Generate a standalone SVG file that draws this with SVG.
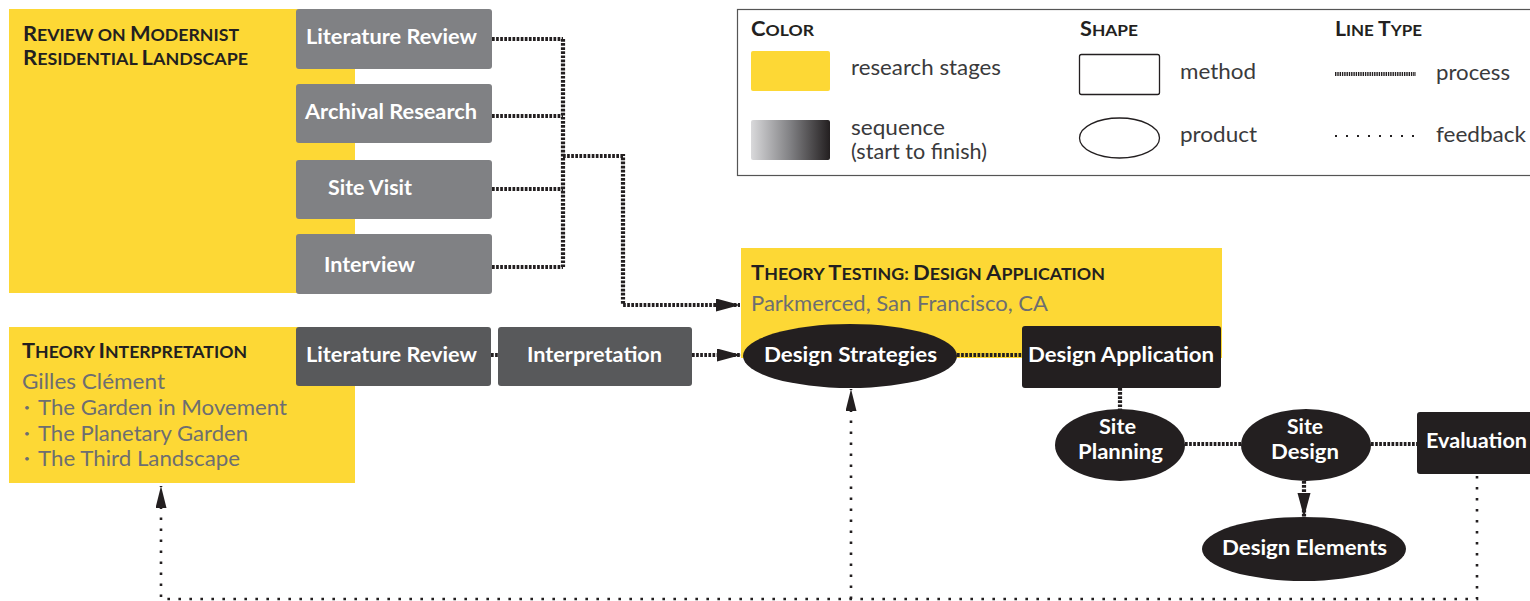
<svg xmlns="http://www.w3.org/2000/svg" width="1530" height="601" viewBox="0 0 1530 601">
  <defs>
    <linearGradient id="seqGrad" x1="0" y1="0" x2="1" y2="0">
      <stop offset="0" stop-color="#d9d9db"/>
      <stop offset="0.5" stop-color="#808083"/>
      <stop offset="1" stop-color="#231f20"/>
    </linearGradient>
    <marker id="arrowProcess" markerUnits="userSpaceOnUse" markerWidth="26" markerHeight="14" refX="24" refY="6.5" orient="auto">
      <path d="M0,0 L24,6.5 L0,13 Z" fill="#231f20"/>
    </marker>
    <marker id="arrowFeedback" markerUnits="userSpaceOnUse" markerWidth="24" markerHeight="12" refX="22" refY="5.5" orient="auto">
      <path d="M0,0 L22,5.5 L0,11 Z" fill="#231f20"/>
    </marker>
    <style>
      .stage { fill: #fdd835; }
      .m1 { fill: #808184; }
      .m2 { fill: #58595b; }
      .m3 { fill: #231f20; }
      .prod { fill: #231f20; }
      text { font-family: Lato, "Noto Sans", sans-serif; }
      .title { font-weight: 700; fill: #231f20; font-size: 21px; }
      .sc { font-size: 17px; }
      .sub { fill: #6d6e71; font-size: 21px; }
      .bullet { fill: #6d6e71; font-size: 10px; }
      .lbl { font-weight: 700; fill: #ffffff; font-size: 21px; }
      .leg { fill: #3a3a3c; font-size: 21px; }
      .legh { font-weight: 700; fill: #231f20; font-size: 20px; }
      .lsc { font-size: 16px; }
      .process { fill: none; stroke: #231f20; stroke-width: 4.2; stroke-dasharray: 2.7 1.4; }
      .feedback { fill: none; stroke: #231f20; stroke-width: 2.6; stroke-dasharray: 2.6 8.4; }
    </style>
  </defs>

  <!-- research stage: review -->
  <g id="stage-review">
    <rect class="stage" x="9" y="9" width="346" height="284"/>
    <text class="title" x="23" y="41" textLength="216" lengthAdjust="spacingAndGlyphs">R<tspan class="sc">EVIEW ON </tspan>M<tspan class="sc">ODERNIST</tspan></text>
    <text class="title" x="23" y="65" textLength="225" lengthAdjust="spacingAndGlyphs">R<tspan class="sc">ESIDENTIAL </tspan>L<tspan class="sc">ANDSCAPE</tspan></text>
  </g>

  <g id="lit-review-1">
    <rect class="m1" x="296" y="9" width="196" height="60" rx="3"/>
    <text class="lbl" x="306" y="44" textLength="171" lengthAdjust="spacingAndGlyphs">Literature Review</text>
  </g>
  <g id="archival">
    <rect class="m1" x="296" y="84" width="196" height="59" rx="3"/>
    <text class="lbl" x="305" y="119" textLength="172" lengthAdjust="spacingAndGlyphs">Archival Research</text>
  </g>
  <g id="site-visit">
    <rect class="m1" x="296" y="160" width="196" height="59" rx="3"/>
    <text class="lbl" x="328" y="195" textLength="84" lengthAdjust="spacingAndGlyphs">Site Visit</text>
  </g>
  <g id="interview">
    <rect class="m1" x="296" y="234" width="196" height="60" rx="3"/>
    <text class="lbl" x="324" y="272" textLength="91" lengthAdjust="spacingAndGlyphs">Interview</text>
  </g>

  <!-- research stage: interpretation -->
  <g id="stage-interpretation">
    <rect class="stage" x="9" y="327" width="346" height="156"/>
    <text class="title" x="22" y="358" textLength="225" lengthAdjust="spacingAndGlyphs">T<tspan class="sc">HEORY </tspan>I<tspan class="sc">NTERPRETATION</tspan></text>
    <text class="sub" x="22" y="389" textLength="143" lengthAdjust="spacingAndGlyphs">Gilles Clément</text>
    <text class="bullet" x="24" y="411">•</text>
    <text class="sub" x="38" y="415" textLength="249" lengthAdjust="spacingAndGlyphs">The Garden in Movement</text>
    <text class="bullet" x="24" y="437">•</text>
    <text class="sub" x="38" y="441" textLength="210" lengthAdjust="spacingAndGlyphs">The Planetary Garden</text>
    <text class="bullet" x="24" y="462">•</text>
    <text class="sub" x="38" y="466" textLength="202" lengthAdjust="spacingAndGlyphs">The Third Landscape</text>
  </g>

  <g id="lit-review-2">
    <rect class="m2" x="296" y="327" width="195" height="59" rx="3"/>
    <text class="lbl" x="306" y="362" textLength="171" lengthAdjust="spacingAndGlyphs">Literature Review</text>
  </g>
  <g id="interpretation">
    <rect class="m2" x="498" y="327" width="194" height="59" rx="3"/>
    <text class="lbl" x="527" y="362" textLength="135" lengthAdjust="spacingAndGlyphs">Interpretation</text>
  </g>

  <!-- research stage: testing -->
  <g id="stage-testing">
    <rect class="stage" x="741" y="248" width="481" height="110"/>
    <text class="title" x="751" y="280" textLength="354" lengthAdjust="spacingAndGlyphs">T<tspan class="sc">HEORY </tspan>T<tspan class="sc">ESTING: </tspan>D<tspan class="sc">ESIGN </tspan>A<tspan class="sc">PPLICATION</tspan></text>
    <text class="sub" x="751" y="311" textLength="297" lengthAdjust="spacingAndGlyphs">Parkmerced, San Francisco, CA</text>
  </g>

  <!-- connectors -->
  <g id="connectors">
    <path class="process" d="M492,39 H563 M492,116 H563 M492,189 H563 M492,267 H563 M563,39 V267"/>
    <path class="process" d="M563,156 H623 V305 H740" marker-end="url(#arrowProcess)"/>
    <path class="process" d="M491,355 H498"/>
    <path class="process" d="M692,355 H741" marker-end="url(#arrowProcess)"/>
    <path class="process" d="M957,355 H1022"/>
    <path class="process" d="M1120,388 V410"/>
    <path class="process" d="M1185,444 H1241"/>
    <path class="process" d="M1371,444 H1417"/>
    <path class="process" d="M1304,481 V517" marker-end="url(#arrowProcess)"/>
    <path class="feedback" d="M1477,476 V599 H161 V486" marker-end="url(#arrowFeedback)"/>
    <path class="feedback" d="M851,599 V389" marker-end="url(#arrowFeedback)"/>
  </g>

  <g id="design-strategies">
    <ellipse class="prod" cx="850" cy="356" rx="107" ry="32"/>
    <text class="lbl" x="764" y="362" textLength="173" lengthAdjust="spacingAndGlyphs">Design Strategies</text>
  </g>
  <g id="design-application">
    <rect class="m3" x="1022" y="326" width="199" height="62" rx="3"/>
    <text class="lbl" x="1028" y="362" textLength="186" lengthAdjust="spacingAndGlyphs">Design Application</text>
  </g>
  <g id="site-planning">
    <ellipse class="prod" cx="1120" cy="445" rx="65" ry="36"/>
    <text class="lbl" x="1099" y="434" textLength="37" lengthAdjust="spacingAndGlyphs">Site</text>
    <text class="lbl" x="1078" y="459" textLength="85" lengthAdjust="spacingAndGlyphs">Planning</text>
  </g>
  <g id="site-design">
    <ellipse class="prod" cx="1306" cy="445" rx="65" ry="36"/>
    <text class="lbl" x="1287" y="434" textLength="36" lengthAdjust="spacingAndGlyphs">Site</text>
    <text class="lbl" x="1271" y="459" textLength="68" lengthAdjust="spacingAndGlyphs">Design</text>
  </g>
  <g id="evaluation">
    <rect class="m3" x="1417" y="412" width="120" height="62" rx="3"/>
    <text class="lbl" x="1426" y="448" textLength="101" lengthAdjust="spacingAndGlyphs">Evaluation</text>
  </g>
  <g id="design-elements">
    <ellipse class="prod" cx="1304" cy="549" rx="102" ry="32"/>
    <text class="lbl" x="1222" y="555" textLength="165" lengthAdjust="spacingAndGlyphs">Design Elements</text>
  </g>

  <!-- legend -->
  <g id="legend">
    <rect x="737.5" y="9.5" width="800" height="166" fill="#ffffff" stroke="#555" stroke-width="1.2"/>
    <text class="legh" x="751" y="36" textLength="63" lengthAdjust="spacingAndGlyphs">C<tspan class="lsc">OLOR</tspan></text>
    <rect x="751" y="51" width="79" height="40" rx="2" fill="#fdd835"/>
    <text class="leg" x="851" y="75" textLength="150" lengthAdjust="spacingAndGlyphs">research stages</text>
    <rect x="751" y="120" width="79" height="40" rx="2" fill="url(#seqGrad)"/>
    <text class="leg" x="851" y="135" textLength="94" lengthAdjust="spacingAndGlyphs">sequence</text>
    <text class="leg" x="851" y="159" textLength="136" lengthAdjust="spacingAndGlyphs">(start to finish)</text>

    <text class="legh" x="1080" y="36" textLength="58" lengthAdjust="spacingAndGlyphs">S<tspan class="lsc">HAPE</tspan></text>
    <rect x="1079.5" y="54.5" width="80" height="40" rx="2" fill="none" stroke="#231f20" stroke-width="1.3"/>
    <text class="leg" x="1180" y="79" textLength="76" lengthAdjust="spacingAndGlyphs">method</text>
    <ellipse cx="1119.5" cy="138" rx="40" ry="20" fill="none" stroke="#231f20" stroke-width="1.3"/>
    <text class="leg" x="1180" y="142" textLength="77" lengthAdjust="spacingAndGlyphs">product</text>

    <text class="legh" x="1335" y="36" textLength="87" lengthAdjust="spacingAndGlyphs">L<tspan class="lsc">INE </tspan>T<tspan class="lsc">YPE</tspan></text>
    <path d="M1335,74 H1416" fill="none" stroke="#231f20" stroke-width="4" stroke-dasharray="1.4 0.9"/>
    <text class="leg" x="1436" y="80" textLength="74" lengthAdjust="spacingAndGlyphs">process</text>
    <path d="M1335,136 H1416" fill="none" stroke="#231f20" stroke-width="2" stroke-dasharray="2 9"/>
    <text class="leg" x="1436" y="142" textLength="90" lengthAdjust="spacingAndGlyphs">feedback</text>
  </g>
</svg>
